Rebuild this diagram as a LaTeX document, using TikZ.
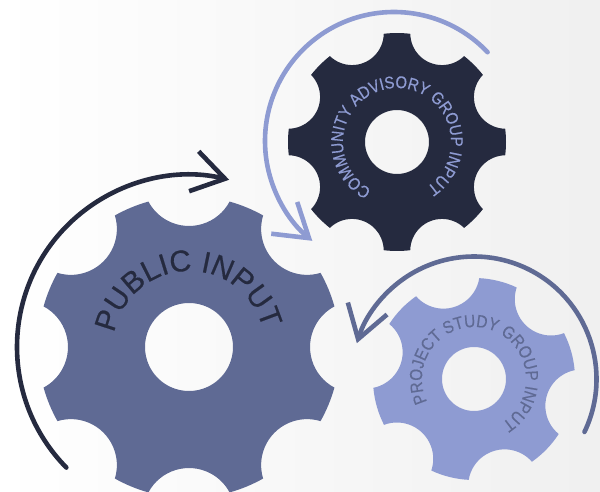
\documentclass[tikz,border=0pt]{standalone}
\usepackage{fontspec}
\newfontfamily\gearfont[FakeBold=0.5]{Liberation Sans}
\newfontfamily\smallgearfont[FakeBold=0.3,FakeStretch=0.88]{Liberation Sans}
\usetikzlibrary{arrows.meta,decorations.text}

\definecolor{navygear}{HTML}{252A3F}
\definecolor{slategear}{HTML}{5F6A94}
\definecolor{periwinkle}{HTML}{8E9BD2}

% center, teeth, outer radius, notch distance, half notch angle, hole, rotation, color
\newcommand{\gearshape}[8]{
    \pgfmathsetmacro{\gearcx}{#3*cos(#5)-#4}
    \pgfmathsetmacro{\gearcy}{#3*sin(#5)}
    \pgfmathsetmacro{\notchr}{veclen(\gearcx,\gearcy)}
    \pgfmathsetmacro{\notcha}{atan2(\gearcy,\gearcx)}
    \fill[#8, even odd rule] ([shift={(#7+360/#2-#5:#3)}]#1)
        \foreach \k [evaluate=\k as \a using #7+\k*360/#2] in {1,...,#2} {
            -- ([shift={(\a-#5:#3)}]#1)
            arc[start angle=\a+360-\notcha, end angle=\a+\notcha, radius=\notchr]
            arc[start angle=\a+#5, end angle=\a+360/#2-#5, radius=#3]
        } -- cycle
        (#1) circle[radius=#6];
}

\tikzset{
    turn/.style={line width=4.6pt, line cap=round, -{Straight Barb[length=32pt, width=41pt]}},
    ring/.style={decorate, decoration={text along path, text align=center, text={#1}}}
}

\begin{document}
\begin{tikzpicture}[x=1pt, y=1pt]
    \useasboundingbox (0,0) rectangle (600,491);
    \clip (0,0) rectangle (600,491);
    \shade[left color=white, middle color=black!1, right color=black!6] (0,0) rectangle (600,491);

    \coordinate (public) at (189,144);
    \coordinate (advisory) at (397,349);
    \coordinate (advisoryturn) at (394,350);
    \coordinate (study) at (474,112);

    % Engranajes
    \gearshape{public}{8}{151}{167}{15.6}{44}{0}{slategear}
    \gearshape{advisory}{8}{109}{117.6}{15.5}{32}{22.5}{navygear}
    \gearshape{study}{6}{101}{111}{19}{32}{46}{periwinkle}

    % Flechas
    \draw[turn, navygear] ([shift={(224.5:172)}]public) arc[start angle=224.5, end angle=76.5, radius=172];
    \draw[turn, periwinkle] ([shift={(43.5:129)}]advisoryturn) arc[start angle=43.5, end angle=230.7, radius=129];
    \draw[turn, slategear] ([shift={(-25.6:122.5)}]study) arc[start angle=-25.6, end angle=163, radius=122.5];

    % Textos
    \path[ring={|\gearfont\fontsize{30}{30}\selectfont\color{navygear}|PUBLIC INPUT}]
        ([shift={(181.5:76)}]public) arc[start angle=181.5, end angle=1.5, radius=76];
    \path[ring={|\smallgearfont\fontsize{17}{17}\selectfont\color{periwinkle}|COMMUNITY ADVISORY GROUP INPUT}]
        ([shift={(262.5:54)}]advisory) arc[start angle=262.5, end angle=-77.5, radius=54];
    \path[ring={|\smallgearfont\fontsize{17.5}{17.5}\selectfont\color{slategear}|PROJECT STUDY GROUP INPUT}]
        ([shift={(234:52)}]study) arc[start angle=234, end angle=-86, radius=52];
\end{tikzpicture}
\end{document}
